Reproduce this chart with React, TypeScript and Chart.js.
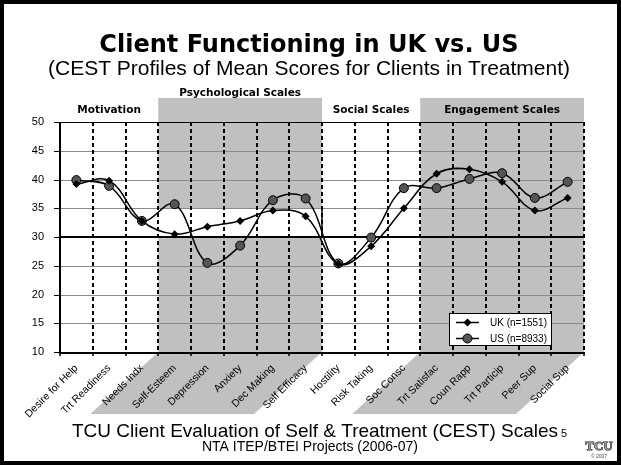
import React, { useEffect, useRef } from "react";
import { Chart, registerables } from "chart.js";

Chart.register(...registerables);

// ---- Data ----
const categories = [
  "Desire for Help",
  "Trt Readiness",
  "Needs Indx",
  "Self-Esteem",
  "Depression",
  "Anxiety",
  "Dec Making",
  "Self Efficacy",
  "Hostility",
  "Risk Taking",
  "Soc Consc",
  "Trt Satisfac",
  "Coun Rapp",
  "Trt Particip",
  "Peer Sup",
  "Social Sup",
];
const ukScores = [39.2, 39.8, 32.8, 30.5, 31.8, 32.8, 34.6, 33.6, 25.3, 28.4, 35.0, 41.0, 41.8, 39.6, 34.6, 36.8];
const usScores = [39.9, 38.9, 32.8, 35.7, 25.5, 28.5, 36.4, 36.7, 25.4, 29.9, 38.5, 38.5, 40.1, 41.1, 36.8, 39.6];
const ukLabel = "UK (n=1551)";
const usLabel = "US (n=8933)";
const yMin = 10;
const yMax = 50;
const yStep = 5;
const yTickValues = [10, 15, 20, 25, 30, 35, 40, 45, 50];
const normRange = [30, 35];
const groupNames = ["Motivation", "Psychological Scales", "Social Scales", "Engagement Scales"];
const groupStart = [0, 3, 8, 11];
const groupEnd = [2, 7, 10, 15];
const groupShaded = [false, true, false, true];

const titleText = "Client Functioning in UK vs. US";
const subtitleText = "(CEST Profiles of Mean Scores for Clients in Treatment)";
const footerText = "TCU Client Evaluation of Self & Treatment (CEST) Scales";
const subFooterText = "NTA ITEP/BTEI Projects (2006-07)";

const GRAY = "#c0c0c0";
const SANS = "'Liberation Sans', Arial, sans-serif";
const DEJA = "'DejaVu Sans', Verdana, sans-serif";

function drawMarker(ctx: CanvasRenderingContext2D, kind: string, x: number, y: number) {
  ctx.save();
  ctx.setLineDash([]);
  if (kind === "diamond") {
    const r = 4;
    ctx.beginPath();
    ctx.moveTo(x, y - r);
    ctx.lineTo(x + r, y);
    ctx.lineTo(x, y + r);
    ctx.lineTo(x - r, y);
    ctx.closePath();
    ctx.fillStyle = "#000";
    ctx.fill();
  } else {
    ctx.beginPath();
    ctx.arc(x, y, 4.5, 0, Math.PI * 2);
    ctx.fillStyle = "#555";
    ctx.fill();
    ctx.lineWidth = 1;
    ctx.strokeStyle = "#000";
    ctx.stroke();
  }
  ctx.restore();
}

const decorPlugin = {
  id: "decor",
  beforeDraw(chart: any) {
    const { ctx, chartArea: a, scales } = chart;
    const yS = scales.y;
    const W = chart.width;
    const H = chart.height;
    const bw = (a.right - a.left) / categories.length;
    const bx = (i: number) => a.left + bw * i;
    ctx.save();
    ctx.fillStyle = "#fff";
    ctx.fillRect(0, 0, W, H);
    const bandTop = 98;
    const skew = 68;
    const slantBottom = 414;
    ctx.fillStyle = GRAY;
    for (let g = 0; g < groupNames.length; g++) {
      if (!groupShaded[g]) continue;
      const l = bx(groupStart[g]);
      const r = bx(groupEnd[g] + 1);
      ctx.fillRect(l, bandTop, r - l, a.bottom - bandTop);
      ctx.beginPath();
      ctx.moveTo(l, a.bottom);
      ctx.lineTo(r, a.bottom);
      ctx.lineTo(r - skew, slantBottom);
      ctx.lineTo(l - skew, slantBottom);
      ctx.closePath();
      ctx.fill();
    }
    // white "normal range" box in the psychological group
    const t35 = yS.getPixelForValue(normRange[1]);
    const t30 = yS.getPixelForValue(normRange[0]);
    ctx.fillStyle = "#fff";
    ctx.fillRect(bx(groupStart[1]), t35, bx(groupEnd[1] + 1) - bx(groupStart[1]), t30 - t35);
    ctx.restore();
  },
  beforeDatasetsDraw(chart: any) {
    const { ctx, chartArea: a, scales } = chart;
    const yS = scales.y;
    const bw = (a.right - a.left) / categories.length;
    const bx = (i: number) => a.left + bw * i;
    ctx.save();
    // horizontal grid
    for (const v of yTickValues) {
      if (v === yMin) continue;
      const py = Math.round(yS.getPixelForValue(v));
      ctx.beginPath();
      if (v === 30) {
        ctx.strokeStyle = "#000";
        ctx.lineWidth = 2;
        ctx.moveTo(a.left, py);
        ctx.lineTo(a.right, py);
      } else if (v === yMax) {
        ctx.strokeStyle = "#000";
        ctx.lineWidth = 1;
        ctx.moveTo(a.left, py + 0.5);
        ctx.lineTo(a.right, py + 0.5);
      } else {
        ctx.strokeStyle = "#8a8a8a";
        ctx.lineWidth = 1;
        ctx.moveTo(a.left, py + 0.5);
        ctx.lineTo(a.right, py + 0.5);
      }
      ctx.stroke();
    }
    // vertical dotted lines
    ctx.strokeStyle = "#000";
    ctx.lineWidth = 2;
    ctx.setLineDash([4, 3]);
    for (let i = 1; i <= categories.length; i++) {
      const px = Math.round(bx(i));
      ctx.beginPath();
      ctx.moveTo(px, a.top);
      ctx.lineTo(px, a.bottom);
      ctx.stroke();
    }
    ctx.setLineDash([]);
    // right border of normal-range box
    const t35 = yS.getPixelForValue(normRange[1]);
    const t30 = yS.getPixelForValue(normRange[0]);
    ctx.lineWidth = 1.5;
    ctx.beginPath();
    ctx.moveTo(Math.round(bx(groupEnd[1] + 1)), t35);
    ctx.lineTo(Math.round(bx(groupEnd[1] + 1)), t30);
    ctx.stroke();
    // x tick marks
    ctx.lineWidth = 1.5;
    for (let i = 0; i <= categories.length; i++) {
      const px = Math.round(bx(i));
      ctx.beginPath();
      ctx.moveTo(px, a.bottom);
      ctx.lineTo(px, a.bottom + 4);
      ctx.stroke();
    }
    // y tick marks
    ctx.lineWidth = 1;
    for (const v of yTickValues) {
      const py = Math.round(yS.getPixelForValue(v)) + 0.5;
      ctx.beginPath();
      ctx.moveTo(a.left - 6, py);
      ctx.lineTo(a.left, py);
      ctx.stroke();
    }
    // axes
    ctx.lineWidth = 2;
    ctx.beginPath();
    ctx.moveTo(a.left, a.top);
    ctx.lineTo(a.left, a.bottom + 1);
    ctx.lineTo(a.right + 1, a.bottom + 1);
    ctx.stroke();
    ctx.restore();
  },
  afterDraw(chart: any) {
    const { ctx, chartArea: a } = chart;
    const W = chart.width;
    const H = chart.height;
    const bw = (a.right - a.left) / categories.length;
    const bx = (i: number) => a.left + bw * i;
    ctx.save();
    ctx.fillStyle = "#000";
    ctx.textAlign = "center";
    ctx.textBaseline = "alphabetic";
    // titles
    ctx.font = `bold 24px ${DEJA}`;
    ctx.fillText(titleText, 309, 52);
    ctx.font = `21px ${SANS}`;
    ctx.fillText(subtitleText, 309, 75);
    // group labels
    ctx.font = `bold 10.5px ${DEJA}`;
    for (let g = 0; g < groupNames.length; g++) {
      const cx = (bx(groupStart[g]) + bx(groupEnd[g] + 1)) / 2;
      const by = g === 1 ? 96 : 113;
      ctx.fillText(groupNames[g], cx, by);
    }
    // legend
    const lx = a.right - 32 - 103;
    const ly = a.bottom - 6 - 33;
    ctx.fillStyle = "#fff";
    ctx.fillRect(lx, ly, 103, 33);
    ctx.strokeStyle = "#000";
    ctx.lineWidth = 1;
    ctx.strokeRect(lx + 0.5, ly + 0.5, 102, 32);
    const entries = [
      { label: ukLabel, kind: "diamond", y: ly + 9.5 },
      { label: usLabel, kind: "circle", y: ly + 25.5 },
    ];
    ctx.font = `10px ${SANS}`;
    ctx.textAlign = "left";
    ctx.textBaseline = "middle";
    for (const e of entries) {
      ctx.strokeStyle = "#000";
      ctx.lineWidth = 1.5;
      ctx.beginPath();
      ctx.moveTo(lx + 7, e.y);
      ctx.lineTo(lx + 30, e.y);
      ctx.stroke();
      drawMarker(ctx, e.kind, lx + 18.5, e.y);
      ctx.fillStyle = "#000";
      ctx.fillText(e.label, lx + 41, e.y + 0.5);
    }
    // footer
    ctx.textAlign = "center";
    ctx.textBaseline = "alphabetic";
    ctx.font = `19px ${SANS}`;
    ctx.fillText(footerText, 315, 437);
    ctx.font = `14px ${SANS}`;
    ctx.fillText(subFooterText, 310, 451);
    ctx.font = `11px ${SANS}`;
    ctx.textAlign = "left";
    ctx.fillText("5", 561, 437);
    // logo
    ctx.textAlign = "center";
    ctx.font = `bold 13px 'Liberation Serif', serif`;
    ctx.fillStyle = "#9a9a9a";
    ctx.strokeStyle = "#222";
    ctx.lineWidth = 1;
    ctx.strokeText("TCU", 599, 450);
    ctx.fillText("TCU", 599, 450);
    ctx.fillStyle = "#444";
    ctx.font = `5px ${SANS}`;
    ctx.fillText("\u00a9 2007", 599, 458);
    // frame
    ctx.fillStyle = "#000";
    ctx.fillRect(0, 0, W, 4);
    ctx.fillRect(0, H - 4, W, 4);
    ctx.fillRect(0, 0, 4, H);
    ctx.fillRect(W - 4, 0, 4, H);
    ctx.restore();
  },
};

export default function App() {
  const canvasRef = useRef<HTMLCanvasElement | null>(null);

  useEffect(() => {
    document.body.style.margin = "0";
    const canvas = canvasRef.current;
    if (!canvas) return;
    const chart = new Chart(canvas, {
      type: "line",
      data: {
        labels: categories,
        datasets: [
          {
            label: ukLabel,
            data: ukScores,
            borderColor: "#000",
            borderWidth: 1.5,
            tension: 0.38,
            pointStyle: "rectRot",
            pointRadius: 4,
            pointBackgroundColor: "#000",
            pointBorderColor: "#000",
            pointBorderWidth: 0,
            fill: false,
          },
          {
            label: usLabel,
            data: usScores,
            borderColor: "#000",
            borderWidth: 1.5,
            tension: 0.38,
            pointStyle: "circle",
            pointRadius: 4.5,
            pointBackgroundColor: "#555",
            pointBorderColor: "#000",
            pointBorderWidth: 1,
            fill: false,
          },
        ],
      },
      options: {
        animation: false,
        responsive: false,
        maintainAspectRatio: false,
        layout: { padding: { left: 0, top: 122, right: 37, bottom: 0 } },
        plugins: {
          legend: { display: false },
          title: { display: false },
          tooltip: { enabled: false },
        },
        scales: {
          x: {
            type: "category",
            offset: true,
            grid: { display: false },
            border: { display: false },
            ticks: {
              autoSkip: false,
              maxRotation: 45,
              minRotation: 45,
              padding: 2,
              color: "#000",
              font: { family: SANS, size: 10.5 },
            },
            afterFit: (s: any) => {
              s.height = 113;
            },
          },
          y: {
            min: yMin,
            max: yMax,
            grid: { display: false },
            border: { display: false },
            ticks: {
              stepSize: yStep,
              padding: 8,
              color: "#000",
              font: { family: SANS, size: 11 },
            },
            afterFit: (s: any) => {
              s.width = 60;
            },
          },
        },
      },
      plugins: [decorPlugin],
    });
    return () => chart.destroy();
  }, []);

  return (
    <div style={{ width: 621, height: 465 }}>
      <canvas ref={canvasRef} width={621} height={465} style={{ display: "block" }} />
    </div>
  );
}
